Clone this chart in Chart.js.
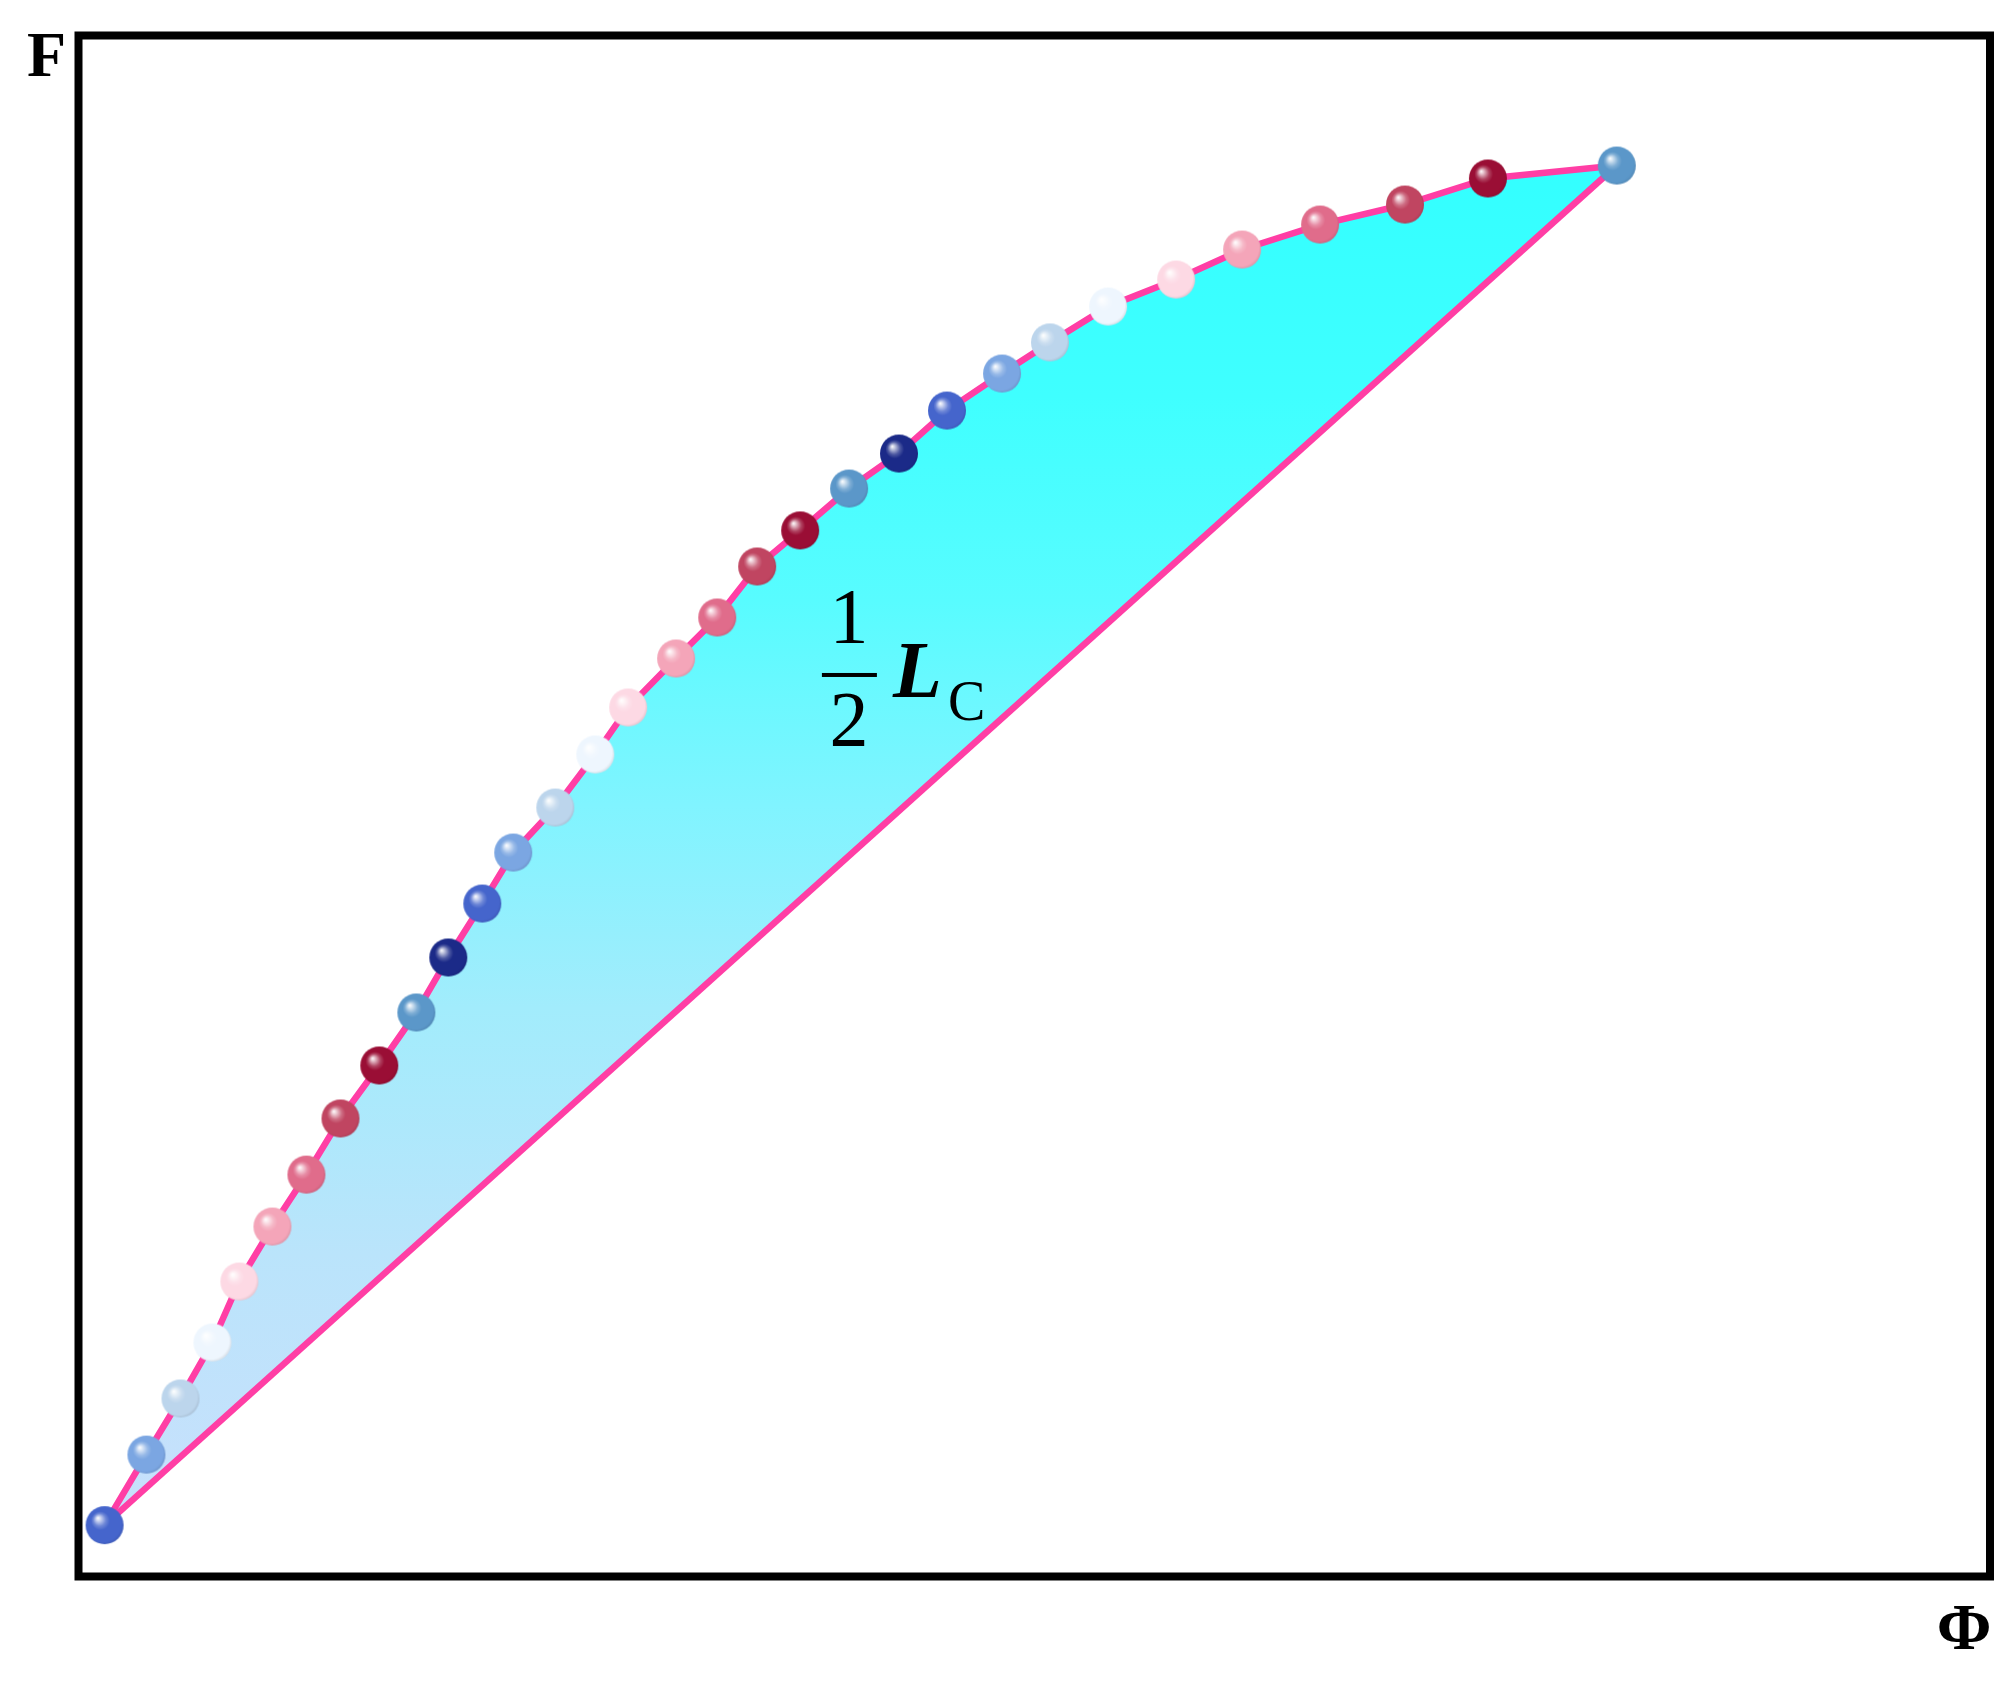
<!DOCTYPE html>
<html>
<head>
<meta charset="utf-8">
<script src="https://cdn.jsdelivr.net/npm/chart.js@4/dist/chart.umd.min.js"></script>
<style>
html,body{margin:0;padding:0;background:#ffffff;overflow:hidden}
canvas{display:block}
</style>
</head>
<body>
<canvas id="c" width="2015" height="1682"></canvas>
<script>
// ---- data (normalised units) ----
const phiValues = [0.0139,0.0358,0.0536,0.0703,0.0844,0.1017,0.1195,0.1373,0.1576,0.1770,0.1937,0.2115,0.2277,0.2497,0.2706,0.2878,0.3129,0.3344,0.3553,0.3778,0.4034,0.4295,0.4546,0.4834,0.5085,0.5389,0.5745,0.6090,0.6498,0.6942,0.7376,0.8050];
const fValues   = [0.0330,0.0788,0.1152,0.1515,0.1911,0.2268,0.2605,0.2969,0.3313,0.3657,0.4014,0.4364,0.4695,0.4987,0.5331,0.5636,0.5954,0.6220,0.6551,0.6785,0.7057,0.7284,0.7563,0.7803,0.8005,0.8238,0.8413,0.8608,0.8770,0.8900,0.9069,0.9153];
const chordPhi  = [0.0139, 0.8050];
const chordF    = [0.0330, 0.9153];
const xAxisLabel = 'Φ';
const yAxisLabel = 'F';
const areaLabel = {num: '1', den: '2', main: 'L', sub: 'C'};

// ---- styles ----
const ballPalette = ['#4565cc','#7ba6e2','#bcd5ec','#eef6fe','#fdd9e4','#f4a5b9','#e06c8b','#c04561','#9a0e35','#5b97c9','#1b2a88'];
const lineColor = '#ff3ea5';

function hexToRgb(h){h=h.replace('#','');return [parseInt(h.substr(0,2),16),parseInt(h.substr(2,2),16),parseInt(h.substr(4,2),16)];}
function mix(a,b,t){return 'rgb('+a.map((v,i)=>Math.round(v+(b[i]-v)*t)).join(',')+')';}
function makeBall(hex, r){
  const s = Math.ceil(2*r+2);
  const c = document.createElement('canvas'); c.width = s; c.height = s;
  const g = c.getContext('2d');
  const cx = s/2, cy = s/2;
  const rgb = hexToRgb(hex);
  const W = [255,255,255], K = [0,0,0];
  const grad = g.createRadialGradient(cx-0.36*r, cy-0.38*r, 0, cx-0.05*r, cy-0.05*r, r*1.1);
  grad.addColorStop(0, 'rgb(255,255,255)');
  grad.addColorStop(0.1, mix(rgb,W,0.75));
  grad.addColorStop(0.3, mix(rgb,W,0.22));
  grad.addColorStop(0.45, mix(rgb,W,0));
  grad.addColorStop(0.88, mix(rgb,W,0));
  grad.addColorStop(1, mix(rgb,K,0.12));
  g.beginPath(); g.arc(cx,cy,r,0,Math.PI*2); g.fillStyle = grad; g.fill();
  return c;
}
const ballImages = phiValues.map((_,i)=>makeBall(ballPalette[i % ballPalette.length], 19));

const curvePts = phiValues.map((x,i)=>({x:x, y:fValues[i]}));
const chordPts = chordPhi.map((x,i)=>({x:x, y:chordF[i]}));

function fillGradient(context){
  const chart = context.chart;
  const area = chart.chartArea;
  if(!area) return 'rgba(51,255,255,1)';
  const ys = chart.scales.y;
  const top = ys.getPixelForValue(Math.max(...fValues));
  const bot = ys.getPixelForValue(Math.min(...fValues));
  const g = chart.ctx.createLinearGradient(0, top, 0, bot);
  g.addColorStop(0, '#33ffff');
  g.addColorStop(0.17, '#3fffff');
  g.addColorStop(0.32, '#58fcff');
  g.addColorStop(0.47, '#80f4ff');
  g.addColorStop(0.62, '#a2ecfc');
  g.addColorStop(0.8, '#bae4fb');
  g.addColorStop(1, '#c8e0fc');
  return g;
}

const decorPlugin = {
  id: 'decor',
  afterDraw(chart){
    const ctx = chart.ctx, a = chart.chartArea;
    ctx.save();
    // frame
    ctx.strokeStyle = '#000';
    ctx.lineWidth = 8;
    ctx.strokeRect(a.left+0.5, a.top+0.5, a.right-a.left, a.bottom-a.top);
    // axis letters
    ctx.fillStyle = '#000';
    ctx.textBaseline = 'alphabetic';
    ctx.textAlign = 'left';
    ctx.font = 'bold 64px "Liberation Serif"';
    ctx.fillText(yAxisLabel, a.left-51, a.top+41);
    ctx.font = 'bold 66px "Liberation Serif"';
    ctx.textAlign = 'right';
    ctx.fillText(xAxisLabel, a.right+2, a.bottom+73);
    // area label anchored at fraction bar centre (data coords)
    const px = chart.scales.x.getPixelForValue(0.4033);
    const py = chart.scales.y.getPixelForValue(0.5847);
    ctx.textAlign = 'center';
    ctx.font = '78px "Liberation Serif"';
    ctx.fillText(areaLabel.num, px, py-33);
    ctx.fillRect(px-27, py-2, 55, 4);
    ctx.fillText(areaLabel.den, px, py+70);
    ctx.textAlign = 'left';
    ctx.font = 'italic bold 80px "Liberation Serif"';
    ctx.fillText(areaLabel.main, px+44, py+22);
    ctx.font = '56px "Liberation Serif"';
    ctx.fillText(areaLabel.sub, px+99, py+45);
    ctx.restore();
  }
};

new Chart(document.getElementById('c'), {
  type: 'line',
  data: {
    datasets: [
      {
        data: curvePts,
        borderColor: lineColor,
        borderWidth: 6.5,
        tension: 0,
        pointStyle: ballImages,
        pointRadius: 19,
        pointHoverRadius: 19,
        fill: {target: 1},
        backgroundColor: fillGradient,
        clip: false
      },
      {
        data: chordPts,
        borderColor: lineColor,
        borderWidth: 6.5,
        tension: 0,
        pointRadius: 0,
        fill: false,
        clip: false
      }
    ]
  },
  options: {
    responsive: false,
    animation: false,
    devicePixelRatio: 1,
    layout: {padding: {left: 78, top: 35, right: 24, bottom: 106}},
    scales: {
      x: {type: 'linear', min: 0, max: 1, display: false},
      y: {type: 'linear', min: 0, max: 1, display: false}
    },
    plugins: {
      legend: {display: false},
      tooltip: {enabled: false},
      filler: {drawTime: 'beforeDatasetsDraw'}
    },
    events: []
  },
  plugins: [decorPlugin]
});
</script>
</body>
</html>
